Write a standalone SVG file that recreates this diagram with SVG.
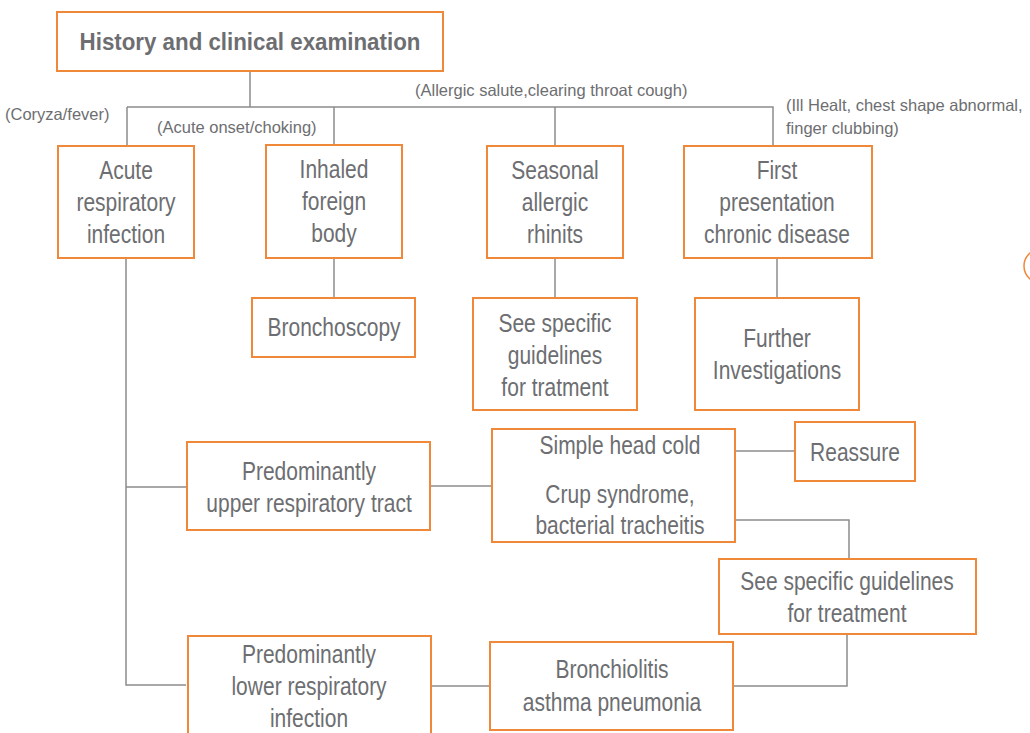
<svg xmlns="http://www.w3.org/2000/svg" width="1030" height="733" viewBox="0 0 1030 733">
  <style>
    .box { fill: #ffffff; stroke: #f0883a; stroke-width: 2; }
    .link { fill: none; stroke: #8c8c8c; stroke-width: 1.5; }
    .t { font-family: "Liberation Sans", Arial, sans-serif; font-size: 25px; fill: #6d6e71; text-anchor: middle;
         transform-box: fill-box; transform-origin: center; transform: scaleX(0.84); }
    .lbl { font-family: "Liberation Sans", Arial, sans-serif; font-size: 16.5px; fill: #6d6e71; }
    .title { font-family: "Liberation Sans", Arial, sans-serif; font-size: 24px; font-weight: bold; fill: #6d6e71; text-anchor: middle;
         transform-box: fill-box; transform-origin: center; transform: scaleX(0.93); }
  </style>

  <!-- connectors -->
  <g id="connectors">
    <path class="link" d="M250 71 V107 M127 107 H773 V146 M127 107 V146 M334 107 V145 M555 107 V146"/>
    <path class="link" d="M126 258 V685 H186 M126 487 H187"/>
    <path class="link" d="M334 258 V298"/>
    <path class="link" d="M555 258 V298"/>
    <path class="link" d="M777 258 V298"/>
    <path class="link" d="M430 486 H492"/>
    <path class="link" d="M735 451 H795"/>
    <path class="link" d="M735 520 H849 V559"/>
    <path class="link" d="M847 634 V686 H733"/>
    <path class="link" d="M431 686 H490"/>
  </g>

  <!-- branch labels -->
  <g id="labels">
    <text class="lbl" x="5" y="120">(Coryza/fever)</text>
    <text class="lbl" x="157" y="133">(Acute onset/choking)</text>
    <text class="lbl" x="415" y="96">(Allergic salute,clearing throat cough)</text>
    <text class="lbl" x="786" y="111">(Ill Healt, chest shape abnormal,</text>
    <text class="lbl" x="786" y="134">finger clubbing)</text>
  </g>

  <g id="history">
    <rect class="box" x="57" y="12" width="386" height="59"/>
    <text class="title" x="250" y="50">History and clinical examination</text>
  </g>

  <g id="acute-respiratory">
    <rect class="box" x="58" y="146" width="136" height="112"/>
    <text class="t" x="126" y="179">Acute</text>
    <text class="t" x="126" y="211">respiratory</text>
    <text class="t" x="126" y="243">infection</text>
  </g>

  <g id="inhaled-foreign-body">
    <rect class="box" x="266" y="145" width="136" height="113"/>
    <text class="t" x="334" y="178">Inhaled</text>
    <text class="t" x="334" y="210">foreign</text>
    <text class="t" x="334" y="242">body</text>
  </g>

  <g id="seasonal-rhinitis">
    <rect class="box" x="487" y="146" width="136" height="112"/>
    <text class="t" x="555" y="179">Seasonal</text>
    <text class="t" x="555" y="211">allergic</text>
    <text class="t" x="555" y="243">rhinits</text>
  </g>

  <g id="chronic-disease">
    <rect class="box" x="684" y="146" width="188" height="112"/>
    <text class="t" x="777" y="179">First</text>
    <text class="t" x="777" y="211">presentation</text>
    <text class="t" x="777" y="243">chronic disease</text>
  </g>

  <g id="bronchoscopy">
    <rect class="box" x="252" y="298" width="163" height="59"/>
    <text class="t" x="334" y="336">Bronchoscopy</text>
  </g>

  <g id="guidelines-rhinitis">
    <rect class="box" x="473" y="298" width="164" height="112"/>
    <text class="t" x="555" y="332">See specific</text>
    <text class="t" x="555" y="364">guidelines</text>
    <text class="t" x="555" y="396">for tratment</text>
  </g>

  <g id="further-investigations">
    <rect class="box" x="695" y="298" width="164" height="112"/>
    <text class="t" x="777" y="347">Further</text>
    <text class="t" x="777" y="379">Investigations</text>
  </g>

  <g id="upper-tract">
    <rect class="box" x="187" y="442" width="243" height="88"/>
    <text class="t" x="309" y="480">Predominantly</text>
    <text class="t" x="309" y="512">upper respiratory tract</text>
  </g>

  <g id="upper-conditions">
    <rect class="box" x="492" y="429" width="243" height="113"/>
    <text class="t" x="620" y="454">Simple head cold</text>
    <text class="t" x="620" y="503">Crup syndrome,</text>
    <text class="t" x="620" y="534">bacterial tracheitis</text>
  </g>

  <g id="reassure">
    <rect class="box" x="795" y="422" width="120" height="59"/>
    <text class="t" x="855" y="461">Reassure</text>
  </g>

  <g id="guidelines-treatment">
    <rect class="box" x="719" y="559" width="257" height="75"/>
    <text class="t" x="847" y="590">See specific guidelines</text>
    <text class="t" x="847" y="622">for treatment</text>
  </g>

  <g id="lower-infection">
    <path class="box" d="M188 740 V636 H431 V740"/>
    <text class="t" x="309" y="663">Predominantly</text>
    <text class="t" x="309" y="695">lower respiratory</text>
    <text class="t" x="309" y="727">infection</text>
  </g>

  <g id="lower-conditions">
    <rect class="box" x="490" y="642" width="243" height="88"/>
    <text class="t" x="612" y="678">Bronchiolitis</text>
    <text class="t" x="612" y="711">asthma pneumonia</text>
  </g>

  <!-- partly visible marker at the right edge -->
  <circle cx="1041" cy="266" r="17" fill="none" stroke="#f0883a" stroke-width="1.5"/>
</svg>
